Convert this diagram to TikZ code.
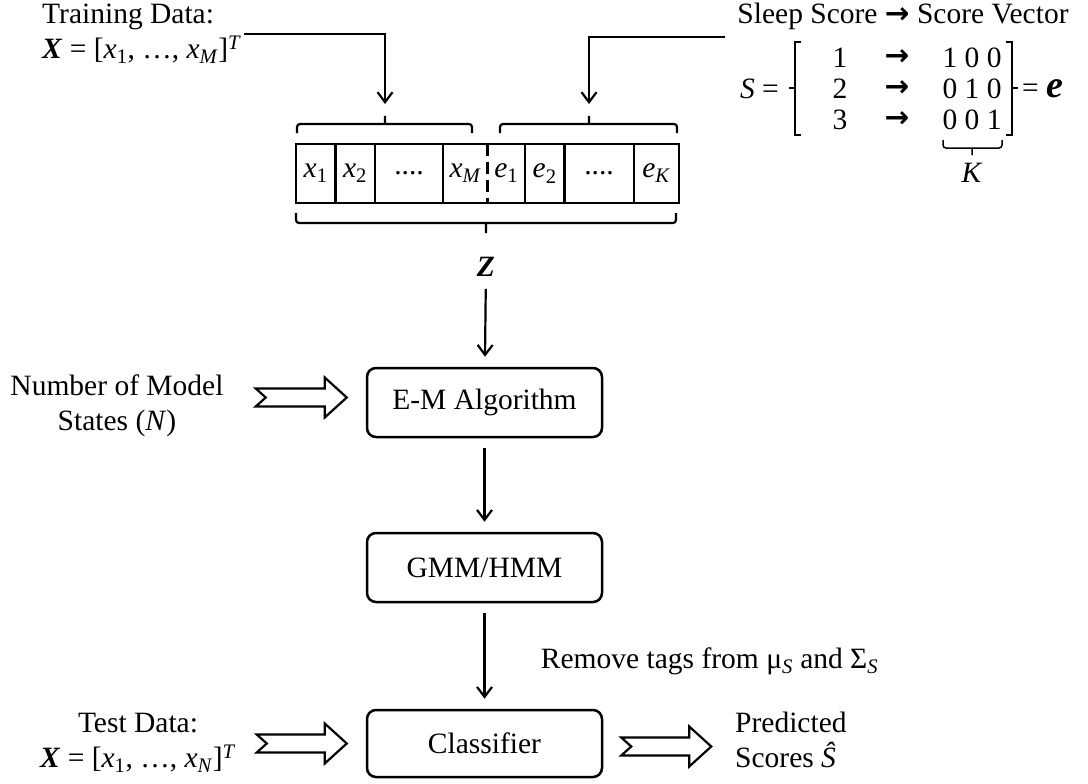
\documentclass[tikz,border=0pt]{standalone}
\usepackage{fontspec}
\setmainfont{Liberation Serif}
\newfontfamily\arrowfont{DejaVu Sans}
\usetikzlibrary{arrows.meta,positioning,calc}
\newcommand{\sbx}[2]{\textit{#1}\textsubscript{#2}}
\newcommand{\toarr}{{\arrowfont\bfseries →}}
% hollow block arrow with notched tail: #1 tail, #2 tip
\newcommand{\fatarrow}[2]{%
  \draw[fat] ($(#1)+(0,-9)$) -- ($(#2)+(-22,-9)$) -- ($(#2)+(-22,-20)$) -- (#2)
    -- ($(#2)+(-22,20)$) -- ($(#2)+(-22,9)$) -- ($(#1)+(0,9)$) -- ($(#1)+(10,0)$) -- cycle;}

\begin{document}
\begin{tikzpicture}[
  x=1pt, y=-1pt,
  every node/.style={font=\fontsize{29.5}{35}\selectfont},
  txt/.style={inner sep=2pt, align=center},
  procbox/.style={draw, rounded corners=9pt, line width=2.5pt, minimum width=235pt, minimum height=69pt, align=center},
  cell/.style={inner sep=0pt, minimum height=59pt},
  cellline/.style={line width=2.5pt},
  brace/.style={line width=2.2pt, rounded corners=3pt},
  arrow/.style={-{Straight Barb[length=10pt,width=15pt]}, line width=2.2pt},
  fat/.style={line width=2.2pt, line join=miter},
  gap/.style={shorten <=10pt, shorten >=10pt}
]
\useasboundingbox (0,0) rectangle (1088,784);

% input labels
\node[txt, align=left, anchor=west] (train) at (40,34) {Training Data:\\\textbf{\textit{X}} = [\sbx{x}{1}, \ldots, \sbx{x}{\textit{M}}]\textsuperscript{\textit{T}}};
\node[txt] (sleep) at (903,16) {Sleep Score \toarr\ Score Vector};
\node[txt, anchor=east] (seq) at (781,89) {\textit{S} =};
\node[txt] (r1a) at (840,58) {1};
\node[txt] (r1b) at (897,58) {\toarr};
\node[txt] (r1c) at (972,58) {1 0 0};
\node[txt] (r2a) at (840,89) {2};
\node[txt] (r2b) at (897,89) {\toarr};
\node[txt] (r2c) at (972,89) {0 1 0};
\node[txt] (r3a) at (840,120) {3};
\node[txt] (r3b) at (897,120) {\toarr};
\node[txt] (r3c) at (972,120) {0 0 1};
\node[txt, anchor=west] (eeq) at (1020,89) {= {\fontsize{38}{40}\selectfont\textbf{\textit{e}}}};
\node[txt] (klab) at (972,173) {\textit{K}};

% brackets around the score table
\draw[line width=1.4pt] (801,42) -- (795,42) -- (795,135) -- (801,135) (795,88) -- (789,88);
\draw[line width=1.4pt] (1006,42) -- (1012,42) -- (1012,135) -- (1006,135) (1012,88) -- (1018,88);
\draw[brace, line width=1.5pt] (943,140) |- (972,148) -| (1002,140) (972,148) -- (972,155);

% feature vector
\node[cell, minimum width=39pt, anchor=west] (c1) at (296,173.5) {\sbx{x}{1}};
\node[cell, minimum width=39pt, right=0pt of c1] (c2) {\sbx{x}{2}};
\node[cell, minimum width=68pt, right=0pt of c2] (c3) {....};
\node[cell, minimum width=44pt, right=0pt of c3] (c4) {\sbx{x}{\textit{M}}};
\node[cell, minimum width=37pt, right=0pt of c4] (c5) {\sbx{e}{1}};
\node[cell, minimum width=39pt, right=0pt of c5] (c6) {\sbx{e}{2}};
\node[cell, minimum width=69pt, right=0pt of c6] (c7) {....};
\node[cell, minimum width=45pt, right=0pt of c7] (c8) {\sbx{e}{\textit{K}}};
\draw[cellline] (c1.north west) rectangle (c8.south east);
\foreach \c in {c1,c2,c3,c5,c6,c7}
  \draw[cellline] (\c.north east) -- (\c.south east);
\draw[cellline, dash pattern=on 12pt off 6pt] (c4.north east) -- (c4.south east);

% braces over and under the vector
\draw[brace] (297,133) |- (385,124) -| (472,133) (385,124) -- (385,116);
\draw[brace] (500,133) |- (589,124) -| (677,133) (589,124) -- (589,116);
\draw[brace] (296,213) |- (486,223) -| (676,213) (486,223) -- (486,233);
\coordinate (ltip) at (385,104);
\coordinate (rtip) at (589,104);
\coordinate (sfree) at (725,37);
\node[txt, inner sep=12pt] (zlab) at (486,267) {\textbf{\textit{Z}}};

% processing chain
\node[procbox] (em) at (484.5,402.5) {E-M Algorithm};
\node[procbox] (gmm) at (484.5,567.5) {GMM/HMM};
\node[procbox, minimum height=67pt] (clf) at (484.5,743.5) {Classifier};
\node[txt] (nstates) at (117,406) {Number of Model\\States (\textit{N})};
\node[txt] (test) at (138,743) {Test Data:\\\textbf{\textit{X}} = [\sbx{x}{1}, \ldots, \sbx{x}{\textit{N}}]\textsuperscript{\textit{T}}};
\node[txt, align=left, anchor=west] (pred) at (733,740) {Predicted\\Scores \textit{Ŝ}};

\draw[arrow] (train.east) -| (ltip);
\draw[arrow] (sfree) -| (rtip);
\draw[arrow, shorten >=10pt] (zlab) -- (em);
\draw[arrow, gap] (em) -- (gmm);
\draw[arrow, gap] (gmm) -- node[anchor=west, xshift=52pt, pos=0.55] (tags) {Remove tags from μ\textsubscript{\textit{S}} and Σ\textsubscript{\textit{S}}} (clf);

\coordinate (ntail) at ($(em.west)+(-110,-5)$);
\coordinate (ntip) at ($(em.west)+(-19,-5)$);
\coordinate (ttail) at ($(clf.west)+(-109,0)$);
\coordinate (ttip) at ($(clf.west)+(-19,0)$);
\coordinate (ptail) at ($(clf.east)+(18,3)$);
\coordinate (ptip) at ($(clf.east)+(108,3)$);
\fatarrow{ntail}{ntip}
\fatarrow{ttail}{ttip}
\fatarrow{ptail}{ptip}
\end{tikzpicture}
\end{document}
